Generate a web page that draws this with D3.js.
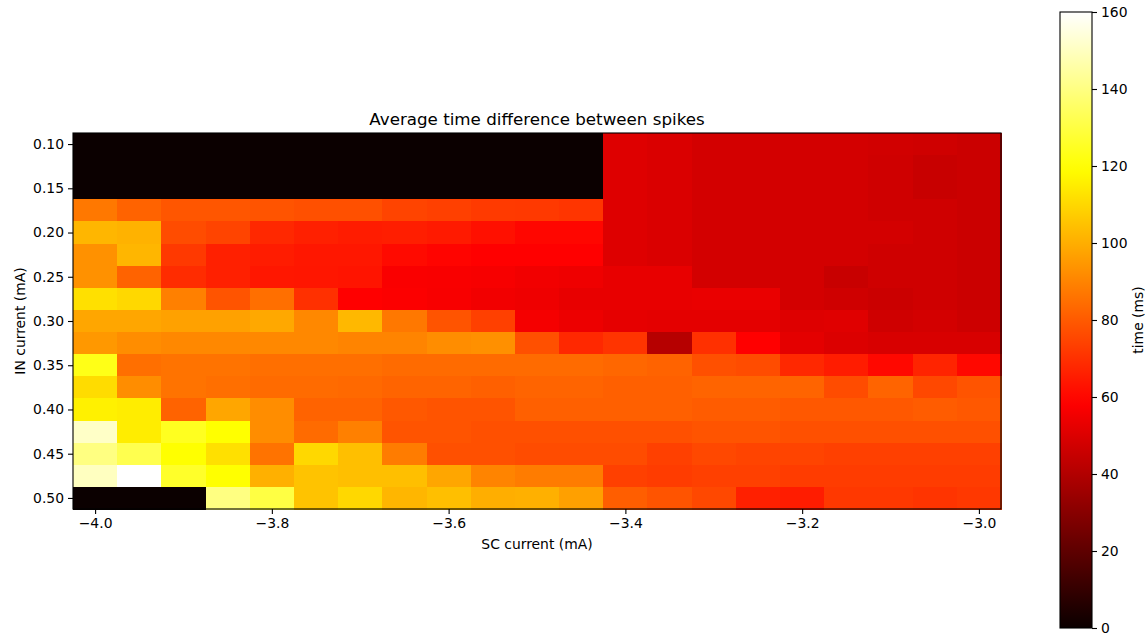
<!DOCTYPE html>
<html>
<head>
<meta charset="utf-8">
<script src="https://cdn.jsdelivr.net/npm/d3@7"></script>
<style>
    body { margin: 0; background: #fff; }
    svg { display: block; font-family: "DejaVu Sans", sans-serif; }
</style>
</head>
<body>
<div id="heatArea"></div>
<script>
// SC current (x) and IN current (y) grid values
const scCurrent = [-4.0, -3.95, -3.9, -3.85, -3.8, -3.75, -3.7, -3.65, -3.6, -3.55, -3.5,
    -3.45, -3.4, -3.35, -3.3, -3.25, -3.2, -3.15, -3.1, -3.05, -3.0];
const inCurrent = [0.1, 0.125, 0.15, 0.175, 0.2, 0.225, 0.25, 0.275, 0.3, 0.325, 0.35,
    0.375, 0.4, 0.425, 0.45, 0.475, 0.5];

// average time difference (ms), one row per IN current value
const avgTimeDiff = [
    [0, 0, 0, 0, 0, 0, 0, 0, 0, 0, 0, 0, 50.5, 49.6, 48, 48, 48, 48, 47.5, 47, 46],
    [0, 0, 0, 0, 0, 0, 0, 0, 0, 0, 0, 0, 50.5, 49.6, 48, 48, 48, 48, 47, 45.3, 46],
    [0, 0, 0, 0, 0, 0, 0, 0, 0, 0, 0, 0, 50.5, 49.6, 48, 48, 48, 48, 47, 45.3, 46],
    [87, 82, 79, 79, 78.5, 77.5, 77.5, 74.6, 73.7, 72.3, 72, 71, 50.5, 49.6, 48, 48, 48, 48, 47, 47, 46],
    [102, 101, 76.6, 74.6, 68, 66, 65, 65.6, 64.6, 62.2, 59.8, 59.8, 50.5, 49.6, 48, 48, 48, 48, 48, 47, 46],
    [93, 102, 72, 66, 65, 64, 64, 60.8, 59.4, 58.4, 58.4, 58.4, 50.5, 49.6, 48, 48, 48, 48, 47, 47, 46],
    [93, 82, 69, 66, 64, 63.7, 63.2, 57.2, 57, 56.4, 55.4, 54.5, 53, 53, 48, 48, 48, 45.3, 47, 47, 46],
    [112, 110, 89, 78.5, 85, 70, 58.4, 57.8, 56.8, 55.4, 54.5, 53, 53, 53, 53.4, 53.4, 48, 47, 46, 47, 46],
    [98, 98, 97, 97, 98.6, 91, 102.4, 87, 78.5, 73.7, 56, 54, 52.5, 52, 52, 52, 50.5, 51, 47, 48, 46.5],
    [94.7, 92, 91, 91, 91, 91, 90, 90, 92, 92.8, 77.5, 68, 70.8, 41, 70, 58.4, 52, 50, 49, 49, 49],
    [123, 85, 86, 86, 85, 85, 85, 84, 84, 84, 84, 84, 83, 82, 77.5, 76.6, 68, 65, 60.3, 67, 60.3],
    [111, 92, 86, 85, 84, 84, 83.5, 82.3, 82.3, 81.3, 82.3, 82.3, 81.3, 81.3, 82.3, 82.3, 82.3, 76.6, 82.3, 75.6, 78.5],
    [116, 115, 82, 98, 92, 82, 82, 79.4, 78.5, 78.5, 81.3, 81.3, 81.3, 81.3, 80.3, 80.3, 79.4, 79.4, 79.4, 80.3, 79.4],
    [151, 115, 124.5, 119.4, 92, 84, 89, 78.5, 78.5, 77.5, 77.5, 77.5, 77.5, 77.5, 78.5, 78.5, 77.5, 77.5, 77.5, 77.5, 77.5],
    [140, 132, 119.4, 112, 86, 110, 104, 88, 77.5, 77.5, 76.6, 76.6, 76.6, 73.7, 75.6, 74.6, 74.6, 73.7, 73.7, 73.7, 73.7],
    [150, 160, 126, 119.4, 100.5, 105, 104, 104, 98, 90, 88, 88, 73.7, 72.8, 73.7, 73.7, 72.8, 72.8, 72.8, 72.8, 72.8],
    [0, 0, 0, 140, 130, 105, 110, 102, 104, 100, 100.5, 96.6, 81, 78.5, 75.6, 66, 65, 71.8, 71.8, 70.8, 71.8]
];

const xTicks = [-4.0, -3.8, -3.6, -3.4, -3.2, -3.0];
const yTicks = [0.1, 0.15, 0.2, 0.25, 0.3, 0.35, 0.4, 0.45, 0.5];
const colorTicks = [0, 20, 40, 60, 80, 100, 120, 140, 160];

// matplotlib "hot" colormap
function hot(t) {
    const c = v => Math.max(0, Math.min(1, v));
    const r = c(0.0416 + (1 - 0.0416) * t / 0.365079);
    const g = c((t - 0.365079) / (0.746032 - 0.365079));
    const b = c((t - 0.746032) / (1 - 0.746032));
    return d3.rgb(r * 255, g * 255, b * 255).toString();
}

class HeatmapVis {
    constructor(parentElement) {
        this.parentElement = parentElement;
        this.initVis();
    }

    initVis() {
        let vis = this;

        vis.totalWidth = 1145;
        vis.totalHeight = 635;
        vis.plot = { left: 73, right: 1001, top: 133, bottom: 509 };

        vis.svg = d3.select("#" + vis.parentElement)
            .append("svg")
            .attr("width", vis.totalWidth)
            .attr("height", vis.totalHeight);

        const dx = 0.025, dy = 0.0125;
        vis.x = d3.scaleLinear()
            .domain([scCurrent[0] - dx, scCurrent[scCurrent.length - 1] + dx])
            .range([vis.plot.left, vis.plot.right]);
        vis.y = d3.scaleLinear()
            .domain([inCurrent[0] - dy, inCurrent[inCurrent.length - 1] + dy])
            .range([vis.plot.top, vis.plot.bottom]);

        vis.color = d3.scaleSequential(hot).domain([0, 160]);

        // flatten the grid
        vis.cells = [];
        avgTimeDiff.forEach((row, i) => {
            row.forEach((v, j) => {
                vis.cells.push({ sc: scCurrent[j], inc: inCurrent[i], value: v });
            });
        });

        vis.svg.append("g")
            .attr("shape-rendering", "crispEdges")
            .selectAll(".cell")
            .data(vis.cells)
            .enter()
            .append("rect")
            .attr("class", "cell")
            .attr("x", d => vis.x(d.sc - dx))
            .attr("y", d => vis.y(d.inc - dy))
            .attr("width", vis.x(dx) - vis.x(-dx) + 0.5)
            .attr("height", vis.y(dy) - vis.y(-dy) + 0.5)
            .attr("fill", d => vis.color(d.value));

        // frame
        vis.svg.append("rect")
            .attr("x", vis.plot.left)
            .attr("y", vis.plot.top)
            .attr("width", vis.plot.right - vis.plot.left)
            .attr("height", vis.plot.bottom - vis.plot.top)
            .attr("fill", "none")
            .attr("stroke", "#000")
            .attr("stroke-width", 1.1);

        // axes
        const xAxis = vis.svg.append("g")
            .attr("transform", `translate(0,${vis.plot.bottom})`)
            .call(d3.axisBottom(vis.x).tickValues(xTicks).tickFormat(d3.format(".1f")).tickSizeOuter(0).tickSize(5).tickPadding(4));
        const yAxis = vis.svg.append("g")
            .attr("transform", `translate(${vis.plot.left},0)`)
            .call(d3.axisLeft(vis.y).tickValues(yTicks).tickFormat(d3.format(".2f")).tickSizeOuter(0).tickSize(5).tickPadding(4));

        [xAxis, yAxis].forEach(a => {
            a.select(".domain").remove();
            a.selectAll("text").attr("font-size", 13.9).attr("fill", "#000").style("font-family", "DejaVu Sans");
            a.selectAll("line").attr("stroke", "#000").attr("stroke-width", 1.1);
        });

        vis.svg.append("text")
            .attr("x", (vis.plot.left + vis.plot.right) / 2)
            .attr("y", 125)
            .attr("text-anchor", "middle")
            .attr("font-size", 16.7)
            .text("Average time difference between spikes");

        vis.svg.append("text")
            .attr("x", (vis.plot.left + vis.plot.right) / 2)
            .attr("y", 549)
            .attr("text-anchor", "middle")
            .attr("font-size", 13.9)
            .text("SC current (mA)");

        vis.svg.append("text")
            .attr("transform", "rotate(-90)")
            .attr("x", -(vis.plot.top + vis.plot.bottom) / 2)
            .attr("y", 25)
            .attr("text-anchor", "middle")
            .attr("font-size", 13.9)
            .text("IN current (mA)");

        vis.drawColorbar();
    }

    drawColorbar() {
        let vis = this;
        const cb = { left: 1060, width: 32, top: 12, bottom: 628 };

        const cScale = d3.scaleLinear().domain([0, 160]).range([cb.bottom, cb.top]);

        const grad = vis.svg.append("defs")
            .append("linearGradient")
            .attr("id", "hotGrad")
            .attr("x1", 0).attr("y1", 1).attr("x2", 0).attr("y2", 0);
        d3.range(0, 1.0001, 0.02).forEach(t => {
            grad.append("stop")
                .attr("offset", t)
                .attr("stop-color", hot(t));
        });

        vis.svg.append("rect")
            .attr("x", cb.left)
            .attr("y", cb.top)
            .attr("width", cb.width)
            .attr("height", cb.bottom - cb.top)
            .attr("fill", "url(#hotGrad)")
            .attr("stroke", "#000")
            .attr("stroke-width", 1.1);

        const cAxis = vis.svg.append("g")
            .attr("transform", `translate(${cb.left + cb.width},0)`)
            .call(d3.axisRight(cScale).tickValues(colorTicks).tickSize(5).tickPadding(4).tickSizeOuter(0));
        cAxis.select(".domain").remove();
        cAxis.selectAll("text").attr("font-size", 13.9).attr("fill", "#000").style("font-family", "DejaVu Sans");
        cAxis.selectAll("line").attr("stroke", "#000").attr("stroke-width", 1.1);

        vis.svg.append("text")
            .attr("transform", "rotate(-90)")
            .attr("x", -(cb.top + cb.bottom) / 2)
            .attr("y", 1143)
            .attr("text-anchor", "middle")
            .attr("font-size", 13.9)
            .text("time (ms)");
    }
}

new HeatmapVis("heatArea");
</script>
</body>
</html>
